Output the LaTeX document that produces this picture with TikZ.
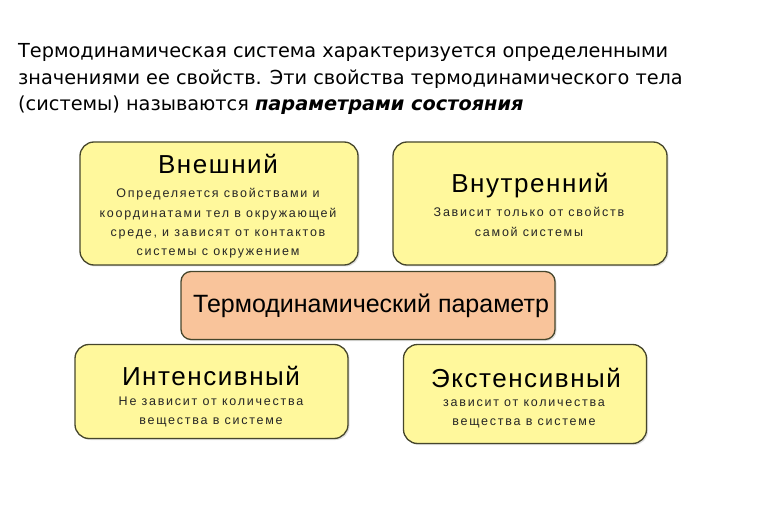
\documentclass[tikz,border=0pt]{standalone}
\usepackage{fontspec}
\setmainfont{DejaVu Sans}
\newfontfamily\boxfont[LetterSpace=6]{Liberation Sans}
\newfontfamily\boxfontplain{Liberation Sans}
\newfontfamily\boxsmall[LetterSpace=14]{Liberation Sans}
\usetikzlibrary{shadows}
\definecolor{boxyellow}{HTML}{FFF89C}
\definecolor{boxpeach}{HTML}{F9C49B}
\definecolor{boxedge}{HTML}{46462C}
\tikzset{
  card/.style={draw=boxedge, line width=1.3pt, rounded corners=14pt, fill=boxyellow, inner sep=0pt,
    drop shadow={shadow xshift=1.5pt, shadow yshift=-1.5pt, opacity=0.25}},
  centercard/.style={card, fill=boxpeach, rounded corners=10pt},
  title/.style={font=\boxfont\fontsize{26}{30}\selectfont, inner sep=0pt, text=black},
  maintitle/.style={font=\boxfontplain\fontsize{25}{30}\selectfont, inner sep=0pt, text=black},
  desc/.style={font=\boxsmall\fontsize{12.5}{19.3}\selectfont, align=center, inner sep=0pt, text=black!85},
  para/.style={font=\fontsize{19.3}{26.5}\selectfont, anchor=base west, inner sep=0pt}
}
\begin{document}
\begin{tikzpicture}[x=1pt, y=-1pt]
\useasboundingbox (0,0) rectangle (765,510);
\node[para] (l1) at (18,58) {Термодинамическая система характеризуется определенными};
\node[para] (l2) at (18,85) {значениями ее свойств. Эти свойства термодинамического тела};
\node[para] (l3) at (18,111) {(системы) называются \textbf{\textit{параметрами состояния}}};

\node[card, minimum width=278pt, minimum height=123pt] (ext) at (219,203.5) {};
\node[card, minimum width=274pt, minimum height=123pt] (int) at (530,203.5) {};
\node[centercard, minimum width=374pt, minimum height=68pt] (par) at (368,305.5) {};
\node[card, minimum width=273pt, minimum height=94pt] (inten) at (211.5,391.5) {};
\node[card, minimum width=243pt, minimum height=99pt] (exten) at (525,394) {};

\node[title] (t1) at (218,164) {Внешний};
\node[desc] (d1) at (218,223.5) {Определяется свойствами и\\координатами тел в окружающей\\среде, и зависят от контактов\\системы с окружением};
\node[title] (t2) at (530,186) {Внутренний};
\node[desc] (d2) at (529,222) {Зависит только от свойств\\самой системы};
\node[maintitle] (t3) at (371,306) {Термодинамический параметр};
\node[title] (t4) at (211,376) {Интенсивный};
\node[desc] (d4) at (211,412) {Не зависит от количества\\вещества в системе};
\node[title] (t5) at (526,378) {Экстенсивный};
\node[desc] (d5) at (524,414) {зависит от количества\\вещества в системе};
\end{tikzpicture}
\end{document}
